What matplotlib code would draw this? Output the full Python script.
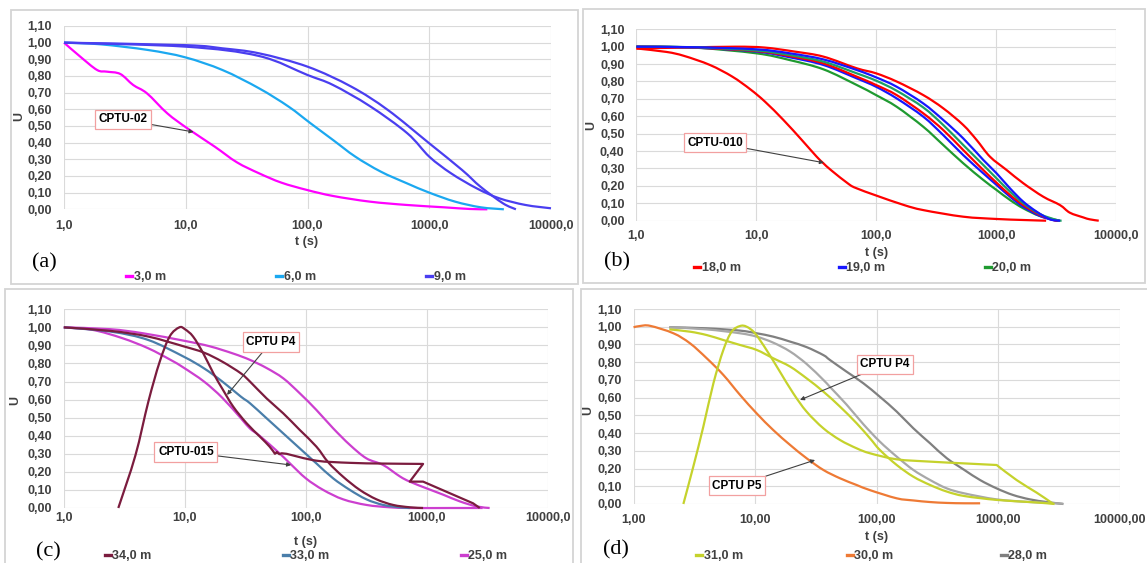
import numpy as np
import matplotlib
matplotlib.use('Agg')
import matplotlib.pyplot as plt
from matplotlib.patches import Rectangle, PathPatch
from matplotlib.path import Path
from matplotlib.lines import Line2D
from matplotlib.legend import Legend
from matplotlib.ticker import NullLocator

plt.rcParams['font.family'] = ['Liberation Sans', 'DejaVu Sans']

W, H = 1147, 563

# ---------------- data ----------------
x_ticks = [1, 10, 100, 1000, 10000]
x_labels_1 = ['1,0', '10,0', '100,0', '1000,0', '10000,0']
x_labels_2 = ['1,00', '10,00', '100,00', '1000,00', '10000,00']
y_ticks = [0.0, 0.1, 0.2, 0.3, 0.4, 0.5, 0.6, 0.7, 0.8, 0.9, 1.0, 1.1]
y_labels = ['0,00', '0,10', '0,20', '0,30', '0,40', '0,50', '0,60', '0,70',
            '0,80', '0,90', '1,00', '1,10']

# (a) CPTU-02
a_3m_t = [1.0, 1.36, 1.87, 2.25, 2.9, 3.7, 4.8, 7.05, 10.3, 17.3, 26.3, 40, 61, 99, 162, 325, 655, 1320, 2140, 3000]
a_3m_u = [1.0, 0.916, 0.836, 0.826, 0.812, 0.746, 0.696, 0.576, 0.486, 0.376, 0.282, 0.216, 0.16, 0.116, 0.08, 0.046, 0.026, 0.012, 0.002, 0.0]
a_6m_t = [1, 2, 4.9, 9.9, 20, 40, 70, 106, 162, 247, 400, 655, 1000, 1630, 2650, 4100]
a_6m_u = [1.0, 0.99, 0.956, 0.912, 0.836, 0.726, 0.616, 0.516, 0.416, 0.316, 0.226, 0.156, 0.10, 0.046, 0.012, 0.0]
a_9m_t1 = [1, 10, 20, 40, 100, 229, 457, 1000, 1860, 2630, 4030, 5150]
a_9m_u1 = [1.0, 0.985, 0.966, 0.936, 0.856, 0.736, 0.596, 0.396, 0.236, 0.136, 0.036, 0.0]
a_9m_t2 = [1, 10, 40, 100, 162, 324, 661, 1000, 1510, 2450, 3760, 6170, 10000]
a_9m_u2 = [1.0, 0.976, 0.92, 0.806, 0.746, 0.62, 0.456, 0.316, 0.216, 0.126, 0.066, 0.026, 0.006]

# (b) CPTU-010
b_18m_t1 = [1, 1.78, 2.5, 4.1, 6.3, 8.9, 11.8, 16.8, 23.9, 31.6, 36.2, 42, 59, 68.6, 99.4, 170, 246, 530, 1000, 1679, 2600]
b_18m_u1 = [0.99, 0.97, 0.947, 0.895, 0.828, 0.755, 0.684, 0.579, 0.464, 0.37, 0.33, 0.29, 0.21, 0.186, 0.145, 0.09, 0.061, 0.023, 0.01, 0.004, 0.0]
b_18m_t2 = [1, 2.5, 6.7, 11.7, 20.8, 36.2, 68.6, 99.4, 147.6, 246, 361, 530, 685, 885, 1220, 1680, 2460, 3390, 4100, 5300, 6000, 7140]
b_18m_u2 = [0.99, 0.995, 1.0, 0.995, 0.972, 0.943, 0.876, 0.847, 0.80, 0.722, 0.646, 0.55, 0.464, 0.368, 0.291, 0.215, 0.138, 0.09, 0.046, 0.019, 0.008, 0.0]
b_18m_t3 = [1, 3, 10, 19, 36.2, 68.6, 99.4, 147.6, 246, 361, 530, 779, 1006, 1300, 1679, 2310, 2985, 3300]
b_18m_u3 = [1.0, 0.995, 0.975, 0.946, 0.904, 0.828, 0.78, 0.722, 0.617, 0.521, 0.406, 0.291, 0.218, 0.148, 0.09, 0.033, 0.004, 0.0]
b_19m_t1 = [1, 3, 10, 19, 36.2, 68.6, 99.4, 147.6, 246, 361, 530, 779, 1006, 1300, 1679, 2167, 2800, 3400]
b_19m_u1 = [1.0, 0.997, 0.985, 0.962, 0.927, 0.866, 0.824, 0.77, 0.674, 0.579, 0.473, 0.349, 0.272, 0.186, 0.109, 0.052, 0.008, 0.0]
b_19m_t2 = [1, 3, 10, 19, 36.2, 68.6, 99.4, 147.6, 246, 361, 530, 779, 1006, 1300, 1679, 2310, 2985, 3300]
b_19m_u2 = [1.0, 0.995, 0.972, 0.939, 0.895, 0.818, 0.77, 0.703, 0.598, 0.492, 0.377, 0.272, 0.205, 0.138, 0.08, 0.027, 0.004, 0.0]
b_20m_t1 = [1, 3, 10, 19, 36.2, 68.6, 99.4, 147.6, 246, 361, 530, 779, 1006, 1300, 1679, 2310, 3390]
b_20m_u1 = [1.0, 0.995, 0.962, 0.923, 0.87, 0.78, 0.722, 0.655, 0.54, 0.435, 0.33, 0.234, 0.176, 0.119, 0.071, 0.027, 0.0]
b_20m_t2 = [1, 3, 10, 19, 36.2, 68.6, 99.4, 147.6, 246, 361, 530, 779, 1006, 1300, 1679, 2310, 3184, 3500]
b_20m_u2 = [1.0, 0.997, 0.978, 0.952, 0.914, 0.847, 0.805, 0.747, 0.651, 0.55, 0.435, 0.32, 0.243, 0.167, 0.10, 0.038, 0.004, 0.0]

# (c) CPTU-015 / CPTU P4
c_34m_t1 = [1, 2.47, 4.99, 9.77, 14.4, 20.4, 29.1, 34.5, 47.3, 65, 89, 122, 153, 203, 279, 383, 525, 721, 929]
c_34m_u1 = [1.0, 0.98, 0.949, 0.895, 0.86, 0.81, 0.745, 0.70, 0.607, 0.524, 0.432, 0.34, 0.253, 0.173, 0.10, 0.048, 0.017, 0.004, 0.0]
c_34m_t2 = [2.82, 3.9, 5.0, 6.2, 7.5, 9.0, 10.0, 11.7, 14.2, 17.2, 20.7, 25.1, 32.4, 41.7, 50.1, 55.5, 57.5, 60.3, 63.1, 69.2, 122, 231, 435, 929, 721, 929, 2404, 2729]
c_34m_u2 = [0.0, 0.29, 0.59, 0.81, 0.95, 1.0, 0.99, 0.949, 0.856, 0.746, 0.653, 0.561, 0.469, 0.395, 0.34, 0.30, 0.31, 0.298, 0.303, 0.30, 0.262, 0.25, 0.246, 0.244, 0.146, 0.146, 0.026, 0.0]
c_33m_t = [1, 2.47, 4.99, 9.77, 14.4, 20.4, 29.1, 34.5, 47.3, 65, 89, 122, 168, 231, 316, 435, 597, 721]
c_33m_u = [1.0, 0.976, 0.93, 0.838, 0.773, 0.70, 0.616, 0.58, 0.497, 0.413, 0.33, 0.247, 0.164, 0.10, 0.048, 0.017, 0.004, 0.0]
c_25m_t1 = [1, 1.73, 3.05, 4.99, 7.62, 9.77, 14.4, 20.4, 29.1, 34.5, 41.4, 58.9, 73.8, 100, 139, 203, 316, 490, 724, 1585, 2884]
c_25m_u1 = [1.0, 0.986, 0.94, 0.884, 0.82, 0.777, 0.70, 0.61, 0.496, 0.44, 0.40, 0.31, 0.247, 0.164, 0.10, 0.048, 0.017, 0.004, 0.0, 0.0, 0.0]
c_25m_t2 = [1, 2.41, 4.54, 10, 16.1, 25.1, 34.5, 47.3, 65, 89, 122, 168, 231, 316, 435, 597, 721, 991, 1358, 1862, 2559, 3296]
c_25m_u2 = [1.0, 0.99, 0.967, 0.925, 0.895, 0.855, 0.82, 0.775, 0.718, 0.635, 0.543, 0.441, 0.349, 0.275, 0.238, 0.175, 0.146, 0.109, 0.074, 0.037, 0.009, 0.0]

# (d) CPTU P4 / CPTU P5
d_31m_t1 = [2.57, 3.1, 3.75, 4.54, 5.48, 6.41, 7.52, 8.52, 9.97, 12.4, 16.0, 20.6, 26.5, 36.4, 49.9, 68.4, 88.1, 146, 275, 525, 968, 1413, 2065, 2661, 2818]
d_31m_u1 = [0.0, 0.21, 0.436, 0.681, 0.869, 0.972, 1.004, 1.0, 0.963, 0.869, 0.746, 0.624, 0.521, 0.427, 0.361, 0.314, 0.286, 0.252, 0.239, 0.229, 0.22, 0.135, 0.064, 0.013, 0.0]
d_31m_t2 = [1.97, 2.92, 4.0, 5.48, 7.52, 10.3, 14.1, 19.4, 26.5, 36.4, 49.9, 68.4, 88.1, 106, 146, 200, 275, 377, 525, 968, 1820, 2512, 2900]
d_31m_u2 = [0.985, 0.972, 0.953, 0.925, 0.897, 0.869, 0.822, 0.775, 0.709, 0.634, 0.549, 0.455, 0.37, 0.305, 0.22, 0.154, 0.107, 0.07, 0.045, 0.023, 0.011, 0.004, 0.0]
d_30m_t = [1.0, 1.13, 1.37, 2.13, 2.92, 4.0, 5.48, 7.52, 10.3, 14.1, 19.4, 26.5, 36.4, 49.9, 68.4, 88.1, 146, 200, 275, 377, 525, 708]
d_30m_u = [0.997, 1.004, 1.005, 0.963, 0.906, 0.822, 0.728, 0.615, 0.511, 0.417, 0.333, 0.258, 0.192, 0.145, 0.107, 0.078, 0.032, 0.02, 0.011, 0.006, 0.004, 0.004]
d_28m_t1 = [1.97, 4.0, 7.52, 10.3, 14.1, 19.4, 26.5, 36.4, 41.3, 56.6, 77.6, 106, 146, 200, 275, 377, 525, 968, 1820, 3020, 3400]
d_28m_u1 = [0.997, 0.985, 0.963, 0.944, 0.91, 0.86, 0.79, 0.70, 0.66, 0.56, 0.45, 0.352, 0.267, 0.192, 0.135, 0.088, 0.06, 0.026, 0.011, 0.004, 0.0]
d_28m_t2 = [1.97, 4.0, 7.52, 10.3, 14.1, 19.4, 26.5, 36.4, 41.3, 56.6, 77.6, 106, 146, 200, 275, 377, 525, 708, 968, 1318, 1820, 2512, 3428]
d_28m_u2 = [0.997, 0.991, 0.978, 0.963, 0.944, 0.916, 0.885, 0.84, 0.812, 0.746, 0.681, 0.605, 0.521, 0.427, 0.342, 0.258, 0.192, 0.135, 0.088, 0.051, 0.026, 0.011, 0.0]

# ---------------- figure ----------------
fig = plt.figure(figsize=(W / 100, H / 100), dpi=100)
fig.patch.set_facecolor('white')

TXT = '#404040'
LW = 1.6


def fx(x):
    return x / W


def fy(y):
    return 1 - y / H


def border(x0, y0, x1, y1):
    fig.patches.append(Rectangle((fx(x0), fy(y1)), fx(x1 - x0), (y1 - y0) / H,
                                 transform=fig.transFigure, fill=False,
                                 edgecolor='#d4d4d4', lw=1.3))


def make_axes(x0, y0, x1, y1, xlabels, xpad):
    ax = fig.add_axes([fx(x0), fy(y1), fx(x1 - x0), (y1 - y0) / H])
    ax.set_xscale('log')
    ax.set_xlim(1, 10000)
    ax.set_ylim(0, 1.1)
    ax.set_xticks(x_ticks)
    ax.set_xticklabels(xlabels)
    ax.xaxis.set_minor_locator(NullLocator())
    ax.set_yticks(y_ticks)
    ax.set_yticklabels(y_labels)
    ax.grid(True, color='#dadada', lw=0.8)
    ax.set_axisbelow(True)
    for s in ax.spines.values():
        s.set_visible(False)
    ax.tick_params(axis='both', length=0, labelsize=9, labelcolor=TXT)
    ax.tick_params(axis='x', pad=xpad)
    ax.tick_params(axis='y', pad=8.5)
    for lab in ax.get_xticklabels() + ax.get_yticklabels():
        lab.set_fontweight('bold')
    return ax


def curve(ax, t, u, color, corners=()):
    """Smoothed line (like Excel's smoothed scatter line) through the points."""
    x = np.log10(np.asarray(t, float))
    y = np.asarray(u, float)
    cuts = sorted(set([0, len(x) - 1] + list(corners)))
    verts = [(x[0], y[0])]
    codes = [Path.MOVETO]
    for a, b in zip(cuts[:-1], cuts[1:]):
        px, py = x[a:b + 1], y[a:b + 1]
        n = len(px)
        for i in range(n - 1):
            i0 = max(i - 1, 0)
            i3 = min(i + 2, n - 1)
            c1 = (px[i] + (px[i + 1] - px[i0]) / 6, py[i] + (py[i + 1] - py[i0]) / 6)
            c2 = (px[i + 1] - (px[i3] - px[i]) / 6, py[i + 1] - (py[i3] - py[i]) / 6)
            verts += [c1, c2, (px[i + 1], py[i + 1])]
            codes += [Path.CURVE4] * 3
    verts = [(10 ** vx, vy) for vx, vy in verts]
    patch = PathPatch(Path(verts, codes), fill=False, edgecolor=color, lw=LW,
                      transform=ax.transData, clip_on=False, joinstyle='round')
    ax.add_patch(patch)
    return Line2D([], [], color=color, lw=LW)


def labels(ax, ux, uy, tx, ty):
    ax.text(ux, uy, 'U', transform=ax.transAxes, rotation=90, ha='center',
            va='center', fontsize=9, fontweight='bold', color=TXT)
    ax.text(tx, ty, 't (s)', transform=ax.transAxes, ha='center', va='center',
            fontsize=9, fontweight='bold', color=TXT)


def legend_entries(ax, handles, names, xs, y):
    for h, n, x in zip(handles, names, xs):
        leg = Legend(ax, [h], [n], loc='center left',
                     bbox_to_anchor=(fx(x), fy(y)), bbox_transform=fig.transFigure,
                     frameon=False, handlelength=0.5, handletextpad=0.1,
                     borderpad=0, borderaxespad=0,
                     prop={'size': 9, 'weight': 'bold'})
        for t in leg.get_texts():
            t.set_color(TXT)
        for l in leg.get_lines():
            l.set_linewidth(2.4)
        ax.add_artist(leg)


def note(ax, text, tip, center):
    ax.annotate(text, xy=tip, xytext=center, textcoords='data',
                ha='center', va='center', fontsize=8.5, fontweight='bold',
                color='black', zorder=10,
                bbox=dict(boxstyle='square,pad=0.3', fc='white', ec='#f2a0a0', lw=0.9),
                arrowprops=dict(arrowstyle='-|>', color='#404040', lw=0.8,
                                mutation_scale=6, shrinkA=0, shrinkB=0))


def letter(x, y, s):
    fig.text(fx(x), fy(y), s, family='Liberation Serif', fontsize=16,
             ha='center', va='center')


# panel borders
border(11, 10, 578, 284)
border(583, 9, 1145, 283)
border(5, 289, 573, 566)
border(581, 289, 1150, 566)

# ---- (a) ----
ax = make_axes(64, 26, 551, 209.3, x_labels_1, 8)
h1 = curve(ax, a_3m_t, a_3m_u, '#ff00ff')
h2 = curve(ax, a_6m_t, a_6m_u, '#1ba8f0')
h3 = curve(ax, a_9m_t1, a_9m_u1, '#4a3ef0')
curve(ax, a_9m_t2, a_9m_u2, '#4a3ef0')
labels(ax, -0.092, 0.504, 0.499, -0.178)
legend_entries(ax, [h1, h2, h3], ['3,0 m', '6,0 m', '9,0 m'], [126, 276, 426], 277)
note(ax, 'CPTU-02', (11.6, 0.464), (3.04, 0.539))
letter(44, 263, '(a)')

# ---- (b) ----
ax = make_axes(636.4, 29.3, 1116.3, 220.7, x_labels_1, 7)
r1 = curve(ax, b_18m_t1, b_18m_u1, '#ff0000')
curve(ax, b_18m_t2, b_18m_u2, '#ff0000')
g1 = curve(ax, b_20m_t1, b_20m_u1, '#1f9a30')
bl1 = curve(ax, b_19m_t2, b_19m_u2, '#1616ff')
curve(ax, b_18m_t3, b_18m_u3, '#ff0000')
curve(ax, b_20m_t2, b_20m_u2, '#1d9f66')
curve(ax, b_19m_t1, b_19m_u1, '#1616ff')
labels(ax, -0.0946, 0.5, 0.501, -0.169)
legend_entries(ax, [r1, bl1, g1], ['18,0 m', '19,0 m', '20,0 m'], [694, 839, 985], 268)
note(ax, 'CPTU-010', (36.6, 0.333), (4.52, 0.449))
letter(617, 262, '(b)')

# ---- (c) ----
ax = make_axes(63.8, 309.3, 548, 508, x_labels_1, 3)
m1 = curve(ax, c_25m_t1, c_25m_u1, '#cc3fcf')
curve(ax, c_25m_t2, c_25m_u2, '#cc3fcf')
s1 = curve(ax, c_33m_t, c_33m_u, '#4a7eaa')
k1 = curve(ax, c_34m_t1, c_34m_u1, '#7b1c3e')
curve(ax, c_34m_t2, c_34m_u2, '#7b1c3e', corners=(15, 16, 17, 18, 19, 23, 24, 25, 26))
labels(ax, -0.1008, 0.54, 0.5, -0.171)
legend_entries(ax, [k1, s1, m1], ['34,0 m', '33,0 m', '25,0 m'], [105, 283, 461], 556)
note(ax, 'CPTU P4', (22.3, 0.626), (51.5, 0.919))
note(ax, 'CPTU-015', (75.5, 0.238), (10.2, 0.31))
letter(48, 552, '(c)')

# ---- (d) ----
ax = make_axes(633.5, 309, 1120, 504, x_labels_2, 7)
o1 = curve(ax, d_30m_t, d_30m_u, '#ee7a35')
gr1 = curve(ax, d_28m_t2, d_28m_u2, '#808080')
curve(ax, d_28m_t1, d_28m_u1, '#a8a8a8')
y1 = curve(ax, d_31m_t2, d_31m_u2, '#c5d22c')
curve(ax, d_31m_t1, d_31m_u1, '#c5d22c', corners=(20,))
labels(ax, -0.0935, 0.477, 0.5, -0.167)
legend_entries(ax, [y1, o1, gr1], ['31,0 m', '30,0 m', '28,0 m'], [696, 847, 1001], 556)
note(ax, 'CPTU P4', (23.4, 0.587), (117, 0.787))
note(ax, 'CPTU P5', (31.1, 0.248), (7.1, 0.104))
letter(616, 550, '(d)')

fig.savefig('out.png', dpi=100, facecolor='white')
